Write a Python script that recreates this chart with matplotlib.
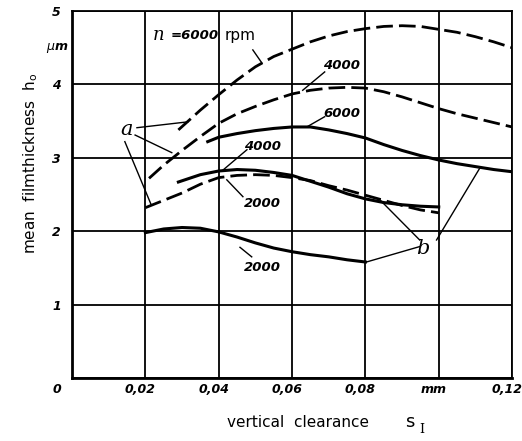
import matplotlib
matplotlib.use('Agg')
import matplotlib.pyplot as plt
from matplotlib.transforms import ScaledTranslation

# ---- data (x in mm, h0 in um) ----
dash6000_x = [0.029, 0.035, 0.04, 0.045, 0.05, 0.055, 0.06, 0.065, 0.07, 0.075,
              0.08, 0.085, 0.09, 0.095, 0.10, 0.105, 0.11, 0.115, 0.12]
dash6000_y = [3.38, 3.65, 3.86, 4.06, 4.24, 4.38, 4.48, 4.58, 4.66, 4.72,
              4.76, 4.79, 4.80, 4.79, 4.75, 4.71, 4.65, 4.58, 4.50]

dash4000_x = [0.021, 0.025, 0.03, 0.035, 0.04, 0.045, 0.05, 0.055, 0.06, 0.065, 0.07,
              0.075, 0.08, 0.085, 0.09, 0.095, 0.10, 0.105, 0.11, 0.115, 0.12]
dash4000_y = [2.72, 2.90, 3.10, 3.29, 3.47, 3.60, 3.70, 3.79, 3.87, 3.92, 3.95,
              3.96, 3.95, 3.90, 3.83, 3.75, 3.67, 3.60, 3.54, 3.48, 3.42]

dash2000_x = [0.02, 0.025, 0.03, 0.035, 0.04, 0.045, 0.05, 0.055, 0.06, 0.065,
              0.07, 0.075, 0.08, 0.085, 0.09, 0.095, 0.10]
dash2000_y = [2.32, 2.42, 2.52, 2.64, 2.73, 2.76, 2.77, 2.76, 2.73, 2.69,
              2.62, 2.56, 2.49, 2.42, 2.35, 2.29, 2.25]

solid6000_x = [0.037, 0.04, 0.045, 0.05, 0.055, 0.06, 0.065, 0.07, 0.075, 0.08,
               0.085, 0.09, 0.095, 0.10, 0.105, 0.11, 0.115, 0.12]
solid6000_y = [3.22, 3.28, 3.33, 3.37, 3.40, 3.42, 3.42, 3.38, 3.33, 3.27,
               3.18, 3.10, 3.03, 2.97, 2.92, 2.88, 2.84, 2.81]

solid4000_x = [0.029, 0.035, 0.04, 0.045, 0.05, 0.055, 0.06, 0.065, 0.07, 0.075,
               0.08, 0.085, 0.09, 0.095, 0.10]
solid4000_y = [2.67, 2.77, 2.82, 2.84, 2.83, 2.80, 2.76, 2.68, 2.60, 2.51,
               2.44, 2.39, 2.36, 2.34, 2.33]

solid2000_x = [0.02, 0.025, 0.03, 0.035, 0.04, 0.045, 0.05, 0.055, 0.06, 0.065,
               0.07, 0.075, 0.08]
solid2000_y = [1.98, 2.03, 2.05, 2.04, 1.99, 1.92, 1.84, 1.77, 1.72, 1.68,
               1.65, 1.61, 1.58]

xticks = [0, 0.02, 0.04, 0.06, 0.08, 0.10, 0.12]
xtick_labels = ['0', '0,02', '0,04', '0,06', '0,08', 'mm', '0,12']
yticks = [0, 1, 2, 3, 4, 5]
ytick_labels = ['', '1', '2', '3', '4', '5']

# curve labels: (text, label pos, leader start, leader end)
curve_labels = [
    ('4000', (0.0736, 4.26), (0.0689, 4.17), (0.0629, 3.92)),
    ('6000', (0.0736, 3.61), (0.0689, 3.56), (0.0640, 3.42)),
    ('4000', (0.0520, 3.15), (0.0477, 3.11), (0.0411, 2.83)),
    ('2000', (0.0520, 2.38), (0.0466, 2.47), (0.0422, 2.70)),
    ('2000', (0.0520, 1.51), (0.0490, 1.65), (0.0458, 1.78)),
]
a_pos = (0.0150, 3.38)
a_leaders = [((0.0177, 3.41), (0.0316, 3.49)),
             ((0.0172, 3.31), (0.0272, 3.07)),
             ((0.0144, 3.22), (0.0215, 2.37))]
b_pos = (0.0956, 1.77)
b_leaders = [((0.0948, 1.79), (0.0803, 1.58)),
             ((0.0948, 1.88), (0.0839, 2.43)),
             ((0.0994, 1.88), (0.1112, 2.86))]

fig = plt.figure(figsize=(5.22, 4.41), dpi=100)
ax = fig.add_axes([0.138, 0.143, 0.843, 0.832])
ax.set_xlim(0, 0.12)
ax.set_ylim(0, 5)

ax.set_xticks(xticks)
ax.set_xticklabels(xtick_labels)
ax.set_yticks(yticks)
ax.set_yticklabels(ytick_labels)
ax.tick_params(length=0, pad=4)
for lab in ax.get_xticklabels() + ax.get_yticklabels():
    lab.set_fontweight('bold')
    lab.set_fontstyle('italic')
    lab.set_fontsize(9)
ax.tick_params(axis='y', pad=8)
for lab in ax.get_xticklabels():
    dx = -15 if lab.get_text() == '0' else -5
    lab.set_transform(lab.get_transform() + ScaledTranslation(dx / 100, 0, fig.dpi_scale_trans))

ax.grid(True, color='black', linewidth=1.3)
ax.set_axisbelow(True)
for side, lw in [('left', 2.0), ('bottom', 2.0), ('top', 1.3), ('right', 1.3)]:
    ax.spines[side].set_linewidth(lw)

dash = (6.0, 2.2)
ax.plot(dash6000_x, dash6000_y, color='black', lw=2.0, dashes=dash)
ax.plot(dash4000_x, dash4000_y, color='black', lw=2.0, dashes=dash)
ax.plot(dash2000_x, dash2000_y, color='black', lw=2.0, dashes=dash)
ax.plot(solid6000_x, solid6000_y, color='black', lw=2.2)
ax.plot(solid4000_x, solid4000_y, color='black', lw=2.2)
ax.plot(solid2000_x, solid2000_y, color='black', lw=2.2)

# n = 6000 rpm heading
ax.text(0.0221, 4.67, 'n', family='DejaVu Serif', style='italic', fontsize=13, va='center')
ax.text(0.0270, 4.67, '=6000', fontweight='bold', style='italic', fontsize=9.5, va='center')
ax.text(0.0415, 4.67, 'rpm', fontsize=11, va='center')
ax.plot([0.0493, 0.0518], [4.47, 4.29], color='black', lw=1.0)

for txt, pos, p0, p1 in curve_labels:
    ax.text(pos[0], pos[1], txt, fontweight='bold', style='italic', fontsize=9.5,
            ha='center', va='center')
    ax.plot([p0[0], p1[0]], [p0[1], p1[1]], color='black', lw=1.0)

ax.text(a_pos[0], a_pos[1], 'a', family='DejaVu Serif', style='italic', fontsize=15,
        ha='center', va='center')
for p0, p1 in a_leaders:
    ax.plot([p0[0], p1[0]], [p0[1], p1[1]], color='black', lw=1.0)
ax.text(b_pos[0], b_pos[1], 'b', family='DejaVu Serif', style='italic', fontsize=15,
        ha='center', va='center')
for p0, p1 in b_leaders:
    ax.plot([p0[0], p1[0]], [p0[1], p1[1]], color='black', lw=1.0)

# axis labels
ax.text(-0.0041, 4.50, r'$\mu$m', fontweight='bold', style='italic', fontsize=9,
        ha='center', va='center', clip_on=False)
fig.text(0.058, 0.63, 'mean  filmthickness  h$_\\mathregular{o}$', rotation=90,
         fontsize=11, ha='center', va='center')
fig.text(0.57, 0.043, 'vertical  clearance', fontsize=11, ha='center', va='center')
fig.text(0.785, 0.043, 's', fontsize=13, ha='center', va='center')
fig.text(0.808, 0.027, 'I', family='DejaVu Serif', fontsize=9, ha='center', va='center')

fig.savefig('out.png', dpi=100)
